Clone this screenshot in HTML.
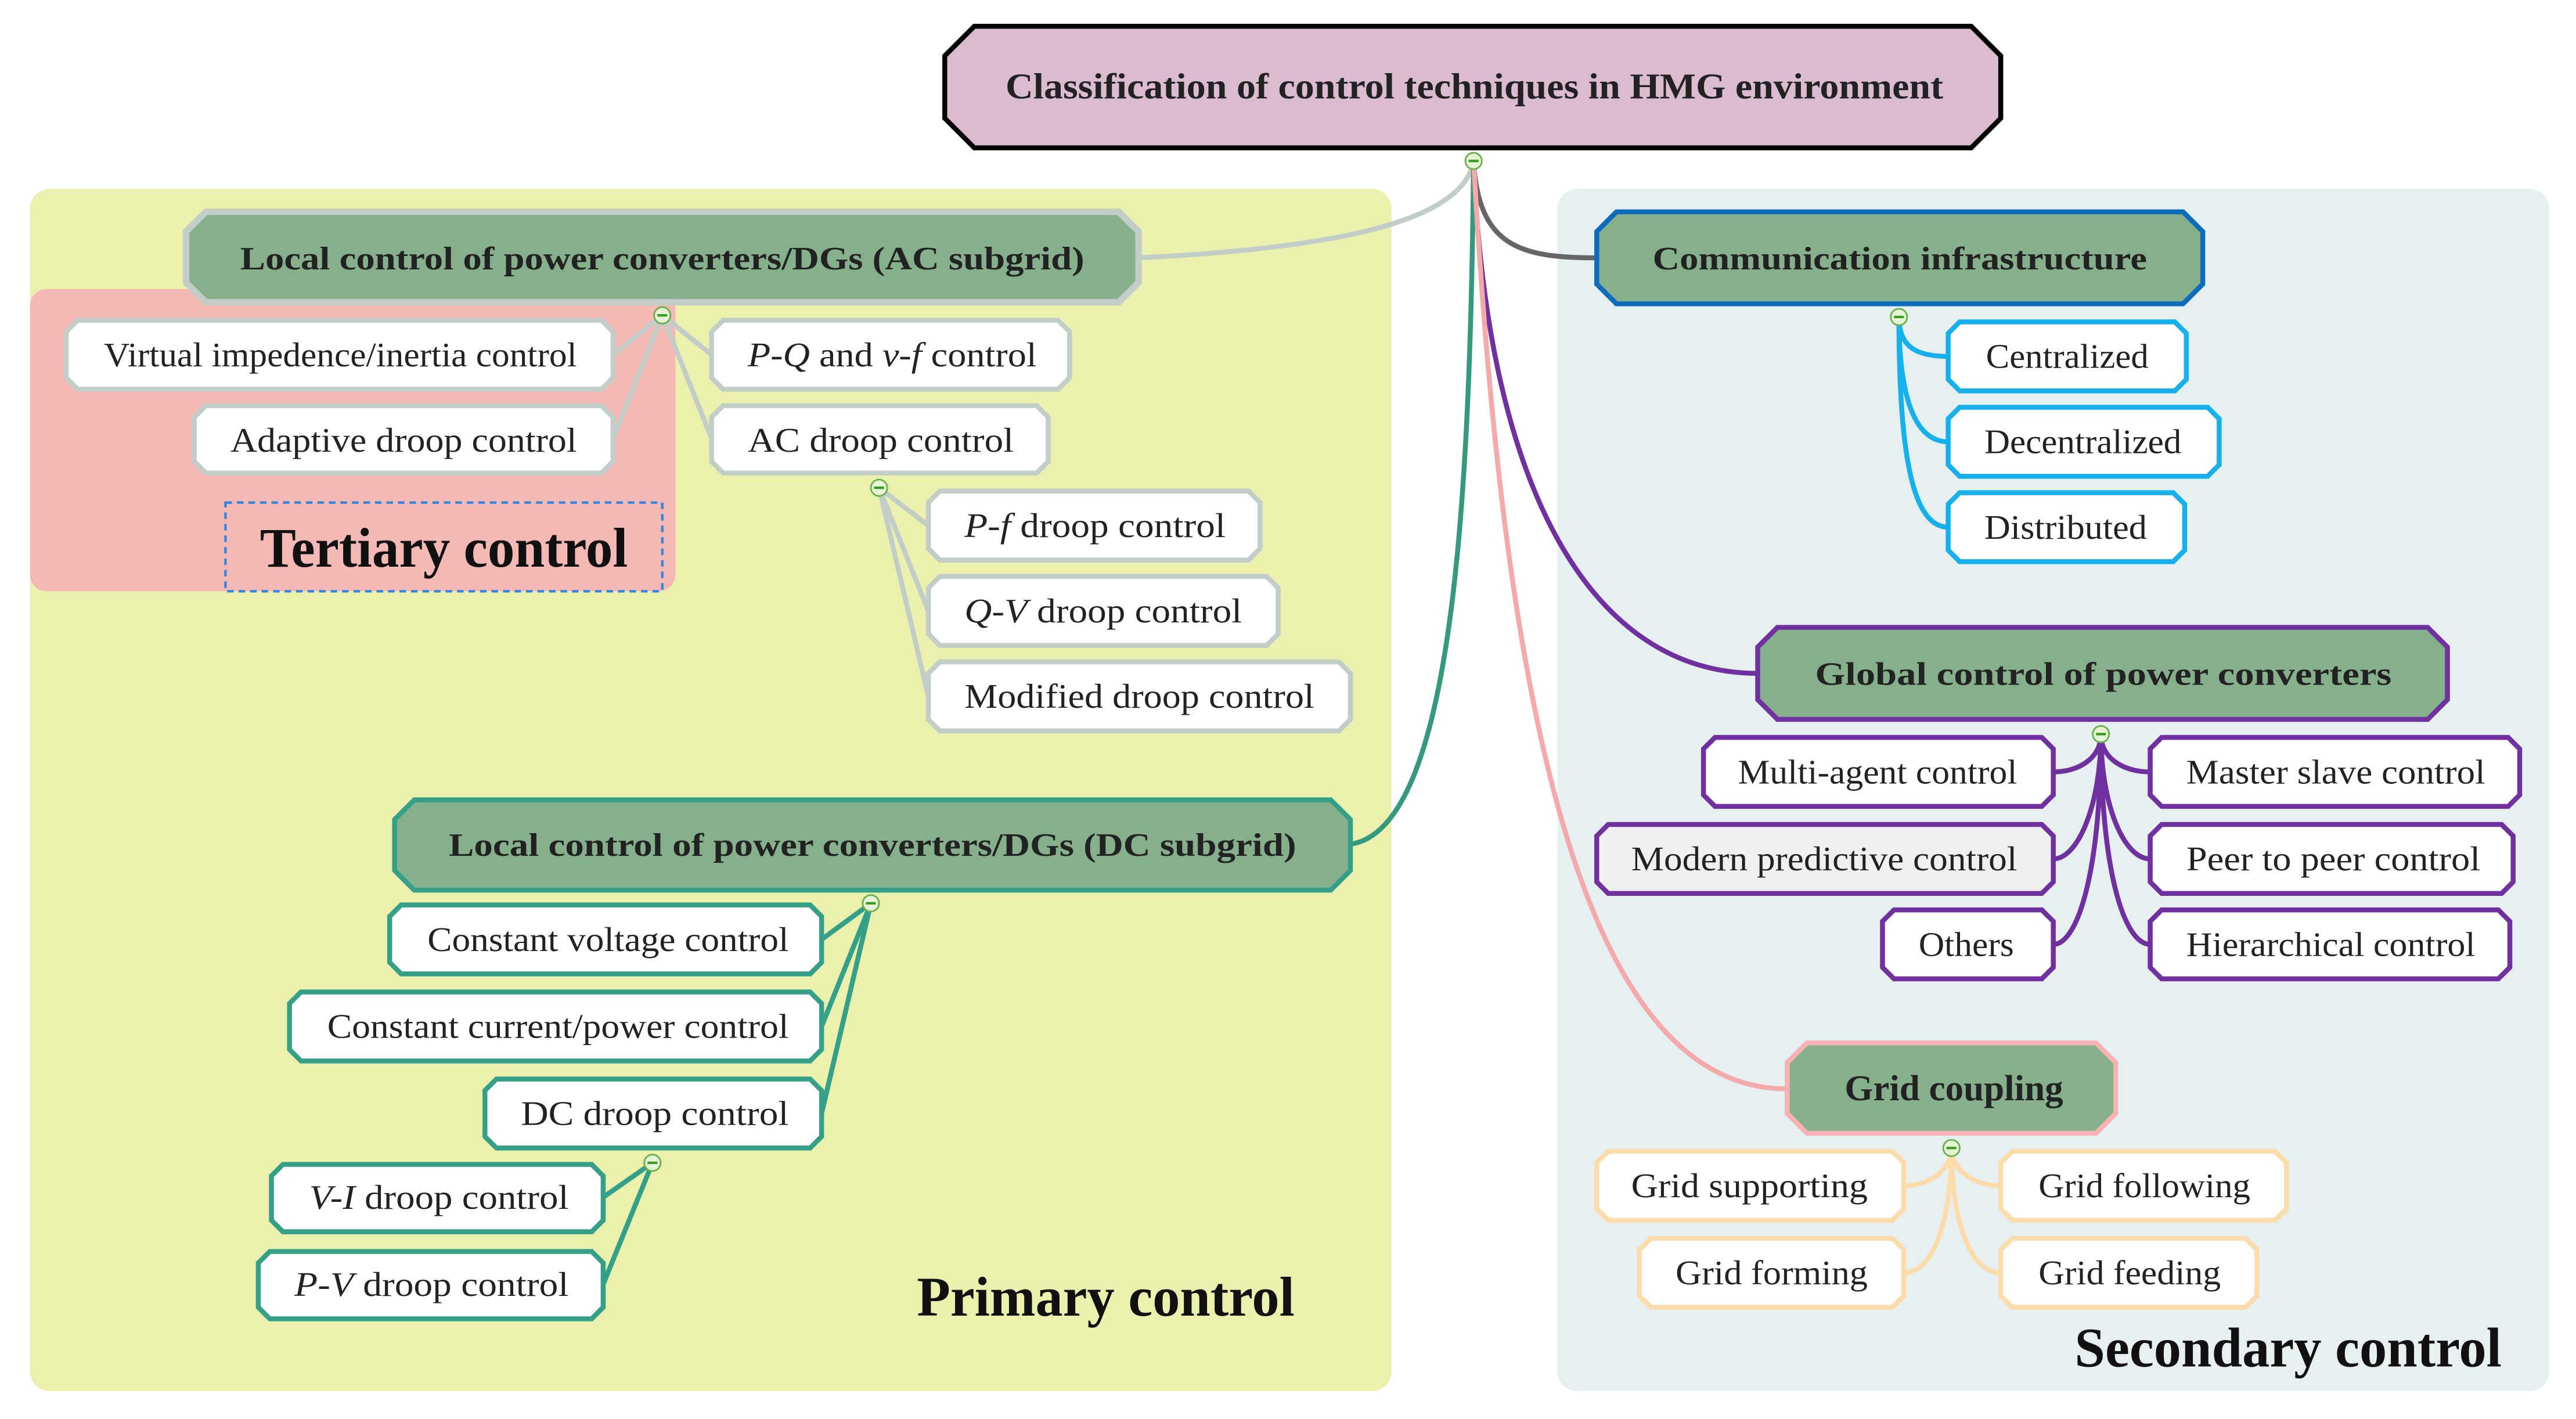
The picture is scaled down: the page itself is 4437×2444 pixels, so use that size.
<!DOCTYPE html>
<html><head><meta charset="utf-8">
<style>
html,body{margin:0;padding:0;background:#fff;}
svg{display:block;}
text{font-family:"Liberation Serif",serif;fill:#222;}
.c{font-size:21px;}
.h{font-size:20px;font-weight:bold;}
.big{font-size:34px;font-weight:bold;fill:#111;}
</style></head><body>
<svg width="4437" height="2444" viewBox="0 0 1568 864" xmlns="http://www.w3.org/2000/svg">
<rect x="0" y="0" width="1568" height="864" fill="#fff"/>
<rect x="18" y="115" width="829" height="732" rx="12" fill="#ebf1ad"/>
<rect x="18" y="176" width="393" height="184" rx="10" fill="#f5b9b5"/>
<rect x="948" y="115" width="604" height="732" rx="12" fill="#e7f0f1"/>
<rect x="137" y="306" width="266" height="54" fill="none" stroke="#2f86e0" stroke-width="1.5" stroke-dasharray="4,3"/>

<g fill="none" stroke-width="3">
<path d="M897,98 C890,140 790,152 693,157" stroke="#c3cdc8"/>
<path d="M897,98 C900,150 925,157 972,157" stroke="#666"/>
<path d="M897,98 C905,300 970,410 1070,410" stroke="#7030a0"/>
<path d="M897,98 C895,300 885,505 822,514" stroke="#35997f"/>
<path d="M897,98 C915,420 960,663 1088,663" stroke="#f4aaaa"/>
</g>
<g fill="none" stroke="#c3cdc8" stroke-width="3">
<path d="M403,192 L373,216 M403,192 L373,267 M403,192 L433,216 M403,192 L433,267"/>
<path d="M535,297 L565,320 M535,297 L565,372 M535,297 L565,424"/>
</g>
<g fill="none" stroke="#35a088" stroke-width="3">
<path d="M530,550 L500,572 M530,550 L500,625 M530,550 L500,678"/>
<path d="M397,708 L367,729 M397,708 L367,782"/>
</g>
<g fill="none" stroke="#16b0ec" stroke-width="3">
<path d="M1156,193 C1156,210 1165,217 1186,217"/>
<path d="M1156,193 C1156,240 1165,269 1186,269"/>
<path d="M1156,193 C1156,280 1165,321 1186,321"/>
</g>
<g fill="none" stroke="#7030a0" stroke-width="3">
<path d="M1279,447 C1279,462 1265,470 1250,470"/>
<path d="M1279,447 C1279,490 1265,523 1250,523"/>
<path d="M1279,447 C1279,530 1265,575 1250,575"/>
<path d="M1279,447 C1279,462 1293,470 1309,470"/>
<path d="M1279,447 C1279,490 1293,523 1309,523"/>
<path d="M1279,447 C1279,530 1293,575 1309,575"/>
</g>
<g fill="none" stroke="#fddcab" stroke-width="3">
<path d="M1188,699 C1188,712 1175,722 1159,722"/>
<path d="M1188,699 C1188,740 1178,775 1159,775"/>
<path d="M1188,699 C1188,712 1201,722 1218,722"/>
<path d="M1188,699 C1188,740 1198,775 1218,775"/>
</g>

<polygon points="593,16 1200,16 1218,34 1218,72 1200,90 593,90 575,72 575,34" fill="#dbbbd0" stroke="#000" stroke-width="3"/>
<text class="h" x="612" y="60" textLength="571" lengthAdjust="spacingAndGlyphs" style="font-size:22px">Classification of control techniques in HMG environment</text>

<polygon points="125,129 681,129 693,141 693,172 681,184 125,184 113,172 113,141" fill="#86b08c" stroke="#c3cdc8" stroke-width="4"/>
<text class="h" x="146" y="164" textLength="514" lengthAdjust="spacingAndGlyphs">Local control of power converters/DGs (AC subgrid)</text>
<polygon points="984,129 1329,129 1341,141 1341,173 1329,185 984,185 972,173 972,141" fill="#86b08c" stroke="#0d6cbc" stroke-width="3"/>
<text class="h" x="1006" y="164" textLength="301" lengthAdjust="spacingAndGlyphs">Communication infrastructure</text>
<polygon points="1082,382 1478,382 1490,394 1490,426 1478,438 1082,438 1070,426 1070,394" fill="#86b08c" stroke="#7030a0" stroke-width="3"/>
<text class="h" x="1105" y="417" textLength="351" lengthAdjust="spacingAndGlyphs">Global control of power converters</text>
<polygon points="252,487 810,487 822,499 822,530 810,542 252,542 240,530 240,499" fill="#86b08c" stroke="#35a088" stroke-width="3"/>
<text class="h" x="273" y="521" textLength="516" lengthAdjust="spacingAndGlyphs">Local control of power converters/DGs (DC subgrid)</text>
<polygon points="1100,635 1276,635 1288,647 1288,678 1276,690 1100,690 1088,678 1088,647" fill="#86b08c" stroke="#f7b3b3" stroke-width="3"/>
<text class="h" x="1123" y="670" textLength="133" lengthAdjust="spacingAndGlyphs" style="font-size:22px">Grid coupling</text>

<g fill="#fff" stroke="#c3cdc8" stroke-width="3">
<polygon points="47,195 366,195 373,202 373,230 366,237 47,237 40,230 40,202"/>
<polygon points="125,247 366,247 373,254 373,281 366,288 125,288 118,281 118,254"/>
<polygon points="440,195 644,195 651,202 651,230 644,237 440,237 433,230 433,202"/>
<polygon points="440,247 631,247 638,254 638,281 631,288 440,288 433,281 433,254"/>
<polygon points="572,299 760,299 767,306 767,334 760,341 572,341 565,334 565,306"/>
<polygon points="572,351 771,351 778,358 778,386 771,393 572,393 565,386 565,358"/>
<polygon points="572,403 815,403 822,410 822,438 815,445 572,445 565,438 565,410"/>
</g>
<text class="c" x="63" y="223" textLength="288" lengthAdjust="spacingAndGlyphs">Virtual impedence/inertia control</text>
<text class="c" x="140" y="275" textLength="211" lengthAdjust="spacingAndGlyphs">Adaptive droop control</text>
<text class="c" x="455" y="223" textLength="176" lengthAdjust="spacingAndGlyphs"><tspan font-style="italic">P-Q</tspan> and <tspan font-style="italic">v-f</tspan> control</text>
<text class="c" x="455" y="275" textLength="162" lengthAdjust="spacingAndGlyphs">AC droop control</text>
<text class="c" x="587" y="327" textLength="159" lengthAdjust="spacingAndGlyphs"><tspan font-style="italic">P-f</tspan> droop control</text>
<text class="c" x="587" y="379" textLength="169" lengthAdjust="spacingAndGlyphs"><tspan font-style="italic">Q-V</tspan> droop control</text>
<text class="c" x="587" y="431" textLength="213" lengthAdjust="spacingAndGlyphs">Modified droop control</text>

<g fill="#fff" stroke="#35a088" stroke-width="3">
<polygon points="244,551 493,551 500,558 500,586 493,593 244,593 237,586 237,558"/>
<polygon points="183,604 493,604 500,611 500,639 493,646 183,646 176,639 176,611"/>
<polygon points="302,657 493,657 500,664 500,692 493,699 302,699 295,692 295,664"/>
<polygon points="172,709 360,709 367,716 367,743 360,750 172,750 165,743 165,716"/>
<polygon points="164,762 360,762 367,769 367,796 360,803 164,803 157,796 157,769"/>
</g>
<text class="c" x="260" y="579" textLength="220" lengthAdjust="spacingAndGlyphs">Constant voltage control</text>
<text class="c" x="199" y="632" textLength="281" lengthAdjust="spacingAndGlyphs">Constant current/power control</text>
<text class="c" x="317" y="685" textLength="163" lengthAdjust="spacingAndGlyphs">DC droop control</text>
<text class="c" x="188" y="736" textLength="158" lengthAdjust="spacingAndGlyphs"><tspan font-style="italic">V-I</tspan> droop control</text>
<text class="c" x="179" y="789" textLength="167" lengthAdjust="spacingAndGlyphs"><tspan font-style="italic">P-V</tspan> droop control</text>

<g fill="#fff" stroke="#16b0ec" stroke-width="3">
<polygon points="1193,196 1324,196 1331,203 1331,231 1324,238 1193,238 1186,231 1186,203"/>
<polygon points="1193,248 1344,248 1351,255 1351,283 1344,290 1193,290 1186,283 1186,255"/>
<polygon points="1193,300 1323,300 1330,307 1330,335 1323,342 1193,342 1186,335 1186,307"/>
</g>
<text class="c" x="1209" y="224" textLength="99" lengthAdjust="spacingAndGlyphs">Centralized</text>
<text class="c" x="1208" y="276" textLength="120" lengthAdjust="spacingAndGlyphs">Decentralized</text>
<text class="c" x="1208" y="328" textLength="99" lengthAdjust="spacingAndGlyphs">Distributed</text>

<g fill="#fff" stroke="#7030a0" stroke-width="3">
<polygon points="1044,449 1243,449 1250,456 1250,484 1243,491 1044,491 1037,484 1037,456"/>
<polygon points="979,502 1243,502 1250,509 1250,537 1243,544 979,544 972,537 972,509" fill="#f0f0f0"/>
<polygon points="1153,554 1243,554 1250,561 1250,589 1243,596 1153,596 1146,589 1146,561"/>
<polygon points="1316,449 1527,449 1534,456 1534,484 1527,491 1316,491 1309,484 1309,456"/>
<polygon points="1316,502 1523,502 1530,509 1530,537 1523,544 1316,544 1309,537 1309,509"/>
<polygon points="1316,554 1521,554 1528,561 1528,589 1521,596 1316,596 1309,589 1309,561"/>
</g>
<text class="c" x="1058" y="477" textLength="170" lengthAdjust="spacingAndGlyphs">Multi-agent control</text>
<text class="c" x="993" y="530" textLength="235" lengthAdjust="spacingAndGlyphs">Modern predictive control</text>
<text class="c" x="1168" y="582" textLength="58" lengthAdjust="spacingAndGlyphs">Others</text>
<text class="c" x="1331" y="477" textLength="182" lengthAdjust="spacingAndGlyphs">Master slave control</text>
<text class="c" x="1331" y="530" textLength="179" lengthAdjust="spacingAndGlyphs">Peer to peer control</text>
<text class="c" x="1331" y="582" textLength="176" lengthAdjust="spacingAndGlyphs">Hierarchical control</text>

<g fill="#fff" stroke="#fddcab" stroke-width="3">
<polygon points="979,701 1152,701 1159,708 1159,736 1152,743 979,743 972,736 972,708"/>
<polygon points="1005,754 1152,754 1159,761 1159,789 1152,796 1005,796 998,789 998,761"/>
<polygon points="1225,701 1385,701 1392,708 1392,736 1385,743 1225,743 1218,736 1218,708"/>
<polygon points="1225,754 1367,754 1374,761 1374,789 1367,796 1225,796 1218,789 1218,761"/>
</g>
<text class="c" x="993" y="729" textLength="144" lengthAdjust="spacingAndGlyphs">Grid supporting</text>
<text class="c" x="1020" y="782" textLength="117" lengthAdjust="spacingAndGlyphs">Grid forming</text>
<text class="c" x="1241" y="729" textLength="129" lengthAdjust="spacingAndGlyphs">Grid following</text>
<text class="c" x="1241" y="782" textLength="111" lengthAdjust="spacingAndGlyphs">Grid feeding</text>

<text class="big" x="158" y="345" textLength="224" lengthAdjust="spacingAndGlyphs">Tertiary control</text>
<text class="big" x="558" y="801" textLength="230" lengthAdjust="spacingAndGlyphs">Primary control</text>
<text class="big" x="1263" y="832" textLength="260" lengthAdjust="spacingAndGlyphs">Secondary control</text>

<g fill="#e6f4d6" stroke="#6ab04c" stroke-width="1">
<circle cx="897" cy="98" r="5"/>
<circle cx="403" cy="192" r="5"/>
<circle cx="535" cy="297" r="5"/>
<circle cx="530" cy="550" r="5"/>
<circle cx="397" cy="708" r="5"/>
<circle cx="1156" cy="193" r="5"/>
<circle cx="1279" cy="447" r="5"/>
<circle cx="1188" cy="699" r="5"/>
</g>
<g stroke="#3a9a20" stroke-width="1.5">
<path d="M894,98h6 M400,192h6 M532,297h6 M527,550h6 M394,708h6 M1153,193h6 M1276,447h6 M1185,699h6"/>
</g>
</svg>
</body></html>
